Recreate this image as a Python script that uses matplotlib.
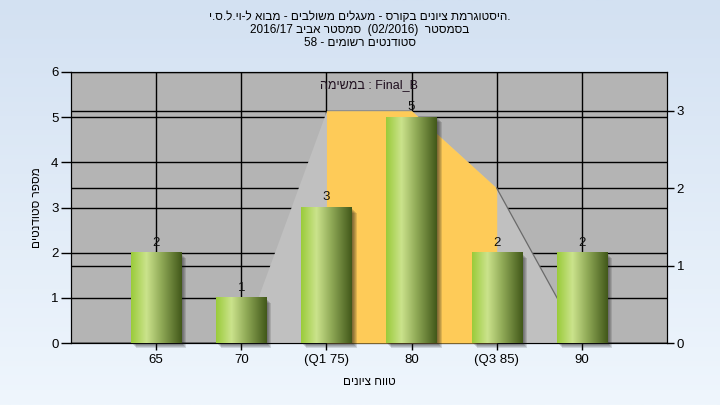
import matplotlib
matplotlib.use('Agg')
import matplotlib.pyplot as plt
import matplotlib.transforms as mtransforms
from matplotlib.colors import LinearSegmentedColormap
from matplotlib.patches import Rectangle
import numpy as np

plt.rcParams['font.family'] = ['Liberation Sans', 'DejaVu Sans']

# data (hebrew strings already in visual order, rtl)
categories = ['65', '70', '(Q1 75)', '80', '(Q3 85)', '90']
counts = [2, 1, 3, 5, 2, 2]
curve = [0, 0, 3, 3, 2, 0]          # area on the right axis
q1_idx, q3_idx = 2, 4
left_ticks = [0, 1, 2, 3, 4, 5, 6]
right_ticks = [0, 1, 2, 3]

title_lines = ['י.ס.ל.יו-ל אובמ - םיבלושמ םילגעמ - סרוקב םינויצ תמרגוטסיה.',
               '2016/17 ביבא רטסמס  (02/2016)  רטסמסב',
               '58 - םימושר םיטנדוטס']
xlabel = 'םינויצ חווט'
ylabel = 'םיטנדוטס רפסמ'
series_name = 'המישמב : Final_B'

fig = plt.figure(figsize=(7.2, 4.05), dpi=100)

# figure background gradient
bg = fig.add_axes([0, 0, 1, 1], zorder=-10)
grad = np.linspace(0, 1, 256).reshape(-1, 1)
bg_cmap = LinearSegmentedColormap.from_list('bg', ['#d3e1f2', '#eff6fd'])
bg.imshow(grad, aspect='auto', cmap=bg_cmap, extent=[0, 1, 0, 1])
bg.axis('off')

pos = [71 / 720, 62 / 405, 596 / 720, 271 / 405]
x = np.arange(len(categories))

# bottom layer: background, left grid, vertical grid
ax = fig.add_axes(pos, zorder=1)
ax.set_facecolor('#b4b4b4')
ax.set_xlim(-1, 6)
ax.set_ylim(0, 6)
ax.set_yticks(left_ticks)
ax.set_xticks(x)
ax.set_xticklabels(categories, fontsize=9.5)
ax.grid(True, color='black', lw=1)
ax.tick_params(axis='y', direction='out', length=7, width=1, labelsize=9.5, pad=2)
ax.tick_params(axis='x', direction='out', length=5, width=1, pad=3)
for s in ax.spines.values():
    s.set_color('black')
ax.set_xlabel(xlabel, fontsize=8.5, labelpad=7)
ax.set_ylabel(ylabel, fontsize=8.5, labelpad=6)

# right axis: its grid and the area
ax_r = ax.twinx()
ax_r.set_zorder(2)
ax_r.patch.set_visible(False)
ax_r.set_ylim(0, 3.5)
ax_r.set_yticks(right_ticks)
ax_r.set_axisbelow(True)
ax_r.grid(True, axis='y', color='black', lw=1)
ax_r.tick_params(axis='y', direction='out', length=5, width=1, labelsize=9.5, pad=2)
ax_r.fill_between(x, curve, color='#c0c0c0', lw=0, zorder=2)
ax_r.fill_between(x[q1_idx:q3_idx + 1], curve[q1_idx:q3_idx + 1], color='#fecb58', lw=0, zorder=3)
ax_r.plot(x[q3_idx:], curve[q3_idx:], color='#6a6a6a', lw=0.9, zorder=4)
ax_r.text(2.5, 3.33, series_name, ha='center', va='center', fontsize=9, color='#201020')

# top layer: bars
ax_top = fig.add_axes(pos, sharex=ax, sharey=ax, zorder=3)
ax_top.patch.set_visible(False)
ax_top.axis('off')

width = 0.59
bar_cmap = LinearSegmentedColormap.from_list(
    'bar', [(0, '#9acb3a'), (0.3, '#cbe38c'), (0.62, '#8ca653'), (1, '#42581a')])
gx = np.linspace(0, 1, 128).reshape(1, -1)
for i, c in enumerate(counts):
    for k in range(1, 6):
        off = mtransforms.ScaledTranslation(k / 100, -k / 100, fig.dpi_scale_trans)
        ax_top.add_patch(Rectangle((i - width / 2, 0), width, c, color='#1a1a1a', alpha=0.14,
                                   lw=0, transform=ax_top.transData + off, clip_on=False))
    ax_top.imshow(gx, aspect='auto', cmap=bar_cmap, extent=[i - width / 2, i + width / 2, 0, c],
                  zorder=3)
    ax_top.annotate(str(c), xy=(i, c), xytext=(0, 3), textcoords='offset points',
                    ha='center', va='bottom', fontsize=9.5, color='#101010')

ax_top.set_xlim(-1, 6)
ax_top.set_ylim(0, 6)

for i, line in enumerate(title_lines):
    fig.text(0.5, 1 - (17 + 13 * i) / 405, line, ha='center', va='center', fontsize=8.5)

plt.savefig('out.png', dpi=100)
